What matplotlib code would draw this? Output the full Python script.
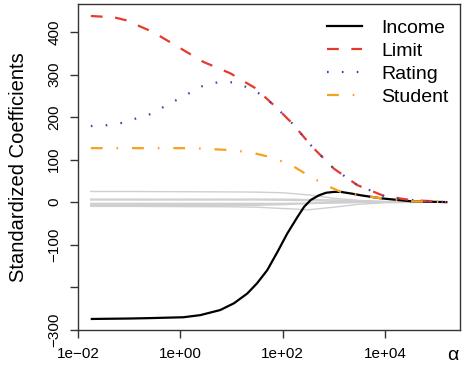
import numpy as np
import matplotlib
matplotlib.use('Agg')
import matplotlib.pyplot as plt

plt.rcParams['font.family'] = ['Liberation Sans', 'DejaVu Sans']
plt.rcParams['lines.scale_dashes'] = False

# log10(alpha) positions and coefficient values
income_lx = [-1.73, -1.0, -0.59, 0.06, 0.39, 0.78, 1.05, 1.31, 1.50, 1.70, 1.90, 2.09,
             2.29, 2.42, 2.55, 2.71, 2.85, 3.0, 3.14, 3.35, 3.53, 3.92, 4.51, 5.2]
income = [-275, -274, -273, -271, -266, -254, -238, -215, -191, -160, -117, -74,
          -35, -11, 5, 16, 22, 24, 24, 20, 16, 9, 2, 0]

limit_lx = [-1.75, -1.3, -1.06, -0.53, -0.04, 0.45, 0.98, 1.47, 1.9, 2.19, 2.58, 3.0,
            3.46, 3.99, 4.5, 5.2]
limit = [438, 435, 428, 400, 365, 330, 303, 268, 220, 185, 130, 79, 40, 14, 5, 0]

rating_lx = [-1.75, -1.44, -1.16, -0.59, -0.08, 0.43, 0.73, 1.02, 1.29, 1.57, 1.78, 1.9,
             2.19, 2.58, 3.0, 3.46, 3.99, 4.5, 5.2]
rating = [179, 181, 186, 207, 240, 273, 282, 282, 271, 254, 233, 220, 185, 130, 79, 40, 14, 5, 0]

student_lx = [-1.75, -0.53, 0.25, 1.04, 1.45, 1.82, 2.2, 2.55, 2.88, 3.14, 3.33, 3.53, 3.92, 4.51, 5.2]
student = [127, 127, 127, 122, 115, 104, 85, 59, 38, 24, 20, 16, 9, 2, 0]

# the remaining predictors, drawn in gray
other_lx = [-1.75, -1.0, 0.0, 1.0, 1.5, 2.0, 2.5, 3.0, 3.5, 4.0, 5.2]
others = {
    'Cards': [25, 25, 24.5, 24, 23.5, 22, 17, 9, 4, 1.5, 0],
    'Age': [-10, -10, -10.5, -11, -12, -15, -18, -12, -5, -1.5, 0],
    'Education': [-3, -3, -3, -3, -3, -3, -2.5, -1.5, -0.5, -0.2, 0],
    'Gender': [-5, -5, -5, -5, -5, -4.5, -3.5, -2, -1, -0.3, 0],
    'Married': [-8, -8, -8, -8, -7.5, -6, -3, 1, 1, 0.3, 0],
    'Asian': [7, 7, 7, 7, 7, 7, 6, 5, 3, 1, 0],
    'Caucasian': [5, 5, 5, 5, 5, 4.5, 3.5, 2.5, 1.5, 0.5, 0],
}

yticks = [-300, -200, -100, 0, 100, 200, 300, 400]
yticklabels = ['\u2212300', '', '\u2212100', '0', '100', '200', '300', '400']
xticks = [1e-2, 1e0, 1e2, 1e4]
xticklabels = ['1e\u221202', '1e+00', '1e+02', '1e+04']

fig = plt.figure(figsize=(4.7, 3.75), dpi=100)
ax = fig.add_axes([0.166, 0.12, 0.813, 0.869])

for name, vals in others.items():
    ax.plot(10**np.array(other_lx), vals, color='#CFCFCF', linewidth=1.0)

ax.plot(10**np.array(income_lx), income, color='black', linewidth=1.6, label='Income')
ax.plot(10**np.array(limit_lx), limit, color='#E63A2E', linewidth=1.6, dashes=(8.5, 9), label='Limit')
ax.plot(10**np.array(rating_lx), rating, color='#3B4BA8', linewidth=1.6, dashes=(1.2, 9.5), label='Rating')
ax.plot(10**np.array(student_lx), student, color='#F5A21C', linewidth=1.6, dashes=(8.5, 10, 1.2, 10), label='Student')

ax.set_xscale('log')
ax.set_xlim(10**-2.0, 10**5.47)
ax.set_ylim(-301, 466)
ax.set_xticks(xticks)
ax.set_xticklabels(xticklabels)
ax.minorticks_off()
ax.set_yticks(yticks)
ax.set_yticklabels(yticklabels, rotation=90, va='center')
ax.tick_params(axis='both', length=6, width=1, color='#333333', labelsize=11, direction='out')
ax.tick_params(axis='y', pad=6)
ax.tick_params(axis='x', pad=6)
for sp in ax.spines.values():
    sp.set_color('#333333')
    sp.set_linewidth(1.0)

ax.set_ylabel('Standardized Coefficients', fontsize=14.5, labelpad=14)
ax.text(0.98, -0.077, '\u03b1', transform=ax.transAxes, fontsize=14, ha='center', va='center')

ax.legend(loc='upper right', bbox_to_anchor=(1.016, 1.007), frameon=False, fontsize=14,
          handlelength=1.8, handletextpad=1.0, labelspacing=0.28)

fig.savefig('out.png', dpi=100)
